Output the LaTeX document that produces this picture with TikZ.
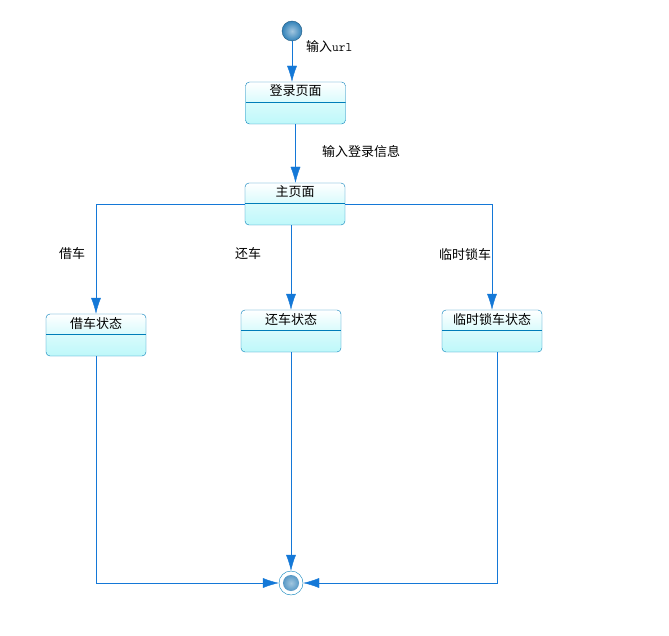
\documentclass[tikz,border=0pt]{standalone}
\usepackage{fontspec}
\usepackage{xcolor}
\usepackage{tikz}
\usetikzlibrary{arrows.meta, positioning, calc, shadings}
\newfontfamily\cjk{Noto Sans CJK SC}
\definecolor{linec}{RGB}{20,120,215}
\definecolor{boxc}{RGB}{0,125,185}
\definecolor{fillc}{RGB}{190,248,250}
\definecolor{ballc}{RGB}{50,130,185}

\begin{document}
\begin{tikzpicture}[
    x=1pt, y=-1pt,
    font=\cjk\fontsize{13}{15}\selectfont,
    state/.style={draw=boxc, rounded corners=4pt, minimum width=100pt,
                  text height=10pt, text depth=24pt, inner sep=4pt,
                  top color=white, bottom color=fillc, middle color=fillc!60,
                  path picture={\draw[boxc]
                    ([yshift=-20pt]path picture bounding box.north west) --
                    ([yshift=-20pt]path picture bounding box.north east);}},
    init/.style={circle, draw=ballc!70!black, minimum size=20pt, inner sep=0pt,
                 inner color=ballc!45!white, outer color=ballc},
    final/.style={circle, draw=boxc, minimum size=24pt, inner sep=0pt,
                  path picture={\shade[inner color=ballc!45!white, outer color=ballc]
                    (path picture bounding box.center) circle (8pt);}},
    arr/.style={-{Latex[length=16pt,width=10pt]}, linec},
    lbl/.style={inner sep=1pt},
  ]
  \useasboundingbox (0,0) rectangle (669,636);

  % start / end points
  \node[init]  (start) at (292,31)  {};
  \node[final] (stop)  at (291,583) {};

  % states
  \node[state] (login)  at (295.5,103) {登录页面};
  \node[state] (main)   at (295,204)   {主页面};
  \node[state] (borrow) at (96,335)    {借车状态};
  \node[state] (ret)    at (291,331)   {还车状态};
  \node[state] (lock)   at (492,331)   {临时锁车状态};

  % top part
  \draw[arr] (start.south) -- (start.south |- login.north);
  \node[lbl, anchor=west] (inurl) at (305,47) {输入{\ttfamily url}};
  \draw[arr] (login.south) -- (login.south |- main.north);
  \node[lbl, anchor=west] (inlog) at (321,152) {输入登录信息};

  % branches out of the main page
  \draw[arr] (main.west) -| (borrow.north);
  \draw[arr] (ret.north |- main.south) -- (ret.north);
  \draw[arr] (main.east) -| (lock.north);
  \node[lbl] (lb1) at (72,254)  {借车};
  \node[lbl] (lb2) at (248,254) {还车};
  \node[lbl] (lb3) at (465,255) {临时锁车};

  % into the final state
  \draw[arr] (borrow.south) |- (stop.west);
  \draw[arr] (ret.south) -- (stop.north);
  \draw[arr] ([xshift=5pt]lock.south) |- (stop.east);

\end{tikzpicture}
\end{document}
